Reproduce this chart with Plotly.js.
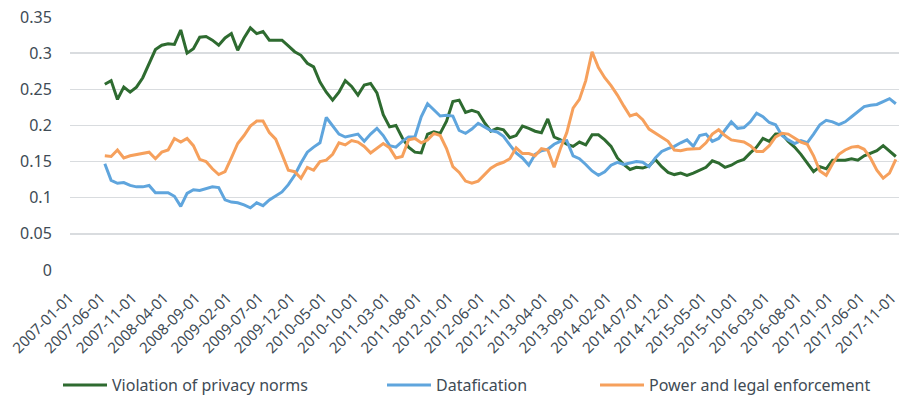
<!DOCTYPE html>
<html>
<head>
<meta charset="utf-8">
<script src="https://cdn.plot.ly/plotly-3.0.1.min.js"></script>
<style>html,body{margin:0;padding:0;background:#fff;}#chart{width:901px;height:404px;}</style>
</head>
<body>
<div id="chart"></div>
<script>
// Monthly categories 2007-01-01 .. 2017-11-01
var months = [];
for (var y = 2007; y <= 2017; y++) {
  for (var m = 1; m <= 12; m++) {
    if (y === 2017 && m > 11) break;
    months.push(y + '-' + (m < 10 ? '0' + m : m) + '-01');
  }
}
// Data begins at 2007-06-01
var firstDataIndex = 5;

var violation = [0.257,0.262,0.236,0.253,0.246,0.253,0.266,0.286,0.305,0.311,
  0.313,0.312,0.332,0.300,0.306,0.322,0.323,0.318,0.311,0.321,
  0.327,0.304,0.321,0.335,0.327,0.330,0.318,0.318,0.318,0.310,
  0.302,
  0.297,0.286,0.281,0.260,0.246,0.235,0.246,0.262,0.254,0.242,
  0.256,0.258,0.245,0.215,0.198,0.200,0.183,0.170,0.163,0.162,
  0.188,0.191,0.189,0.206,0.233,0.235,0.218,0.221,0.218,0.204,
  0.192,0.196,0.194,0.183,
  0.186,0.199,0.196,0.192,0.190,0.209,0.184,0.180,0.174,0.171,
  0.177,0.173,0.187,0.187,0.180,0.171,0.155,0.146,0.139,0.142,
  0.141,0.144,0.153,0.143,0.135,0.132,0.134,0.131,0.134,0.138,
  0.142,
  0.151,0.148,0.142,0.145,0.150,0.153,0.162,0.170,0.182,0.178,
  0.188,0.188,0.178,0.170,0.160,0.148,0.136,0.143,0.140,0.152,
  0.152,0.152,0.154,0.152,0.158,0.161,0.165,0.172,0.165,0.157];

var datafication = [0.147,0.124,0.120,0.121,0.117,0.115,0.115,0.117,0.107,0.107,
  0.107,0.102,0.088,0.106,0.111,0.110,0.113,0.115,0.114,0.097,
  0.094,0.093,0.090,0.086,0.093,0.089,0.097,0.103,0.108,0.118,
  0.131,0.148,0.163,
  0.170,0.176,0.211,0.200,0.188,0.184,0.186,0.188,0.178,0.188,
  0.196,0.186,0.172,0.170,0.178,0.184,0.184,0.212,0.230,0.222,
  0.213,0.214,0.213,0.193,0.189,0.195,0.203,0.198,0.193,0.191,
  0.185,0.173,
  0.162,0.155,0.145,0.160,0.165,0.167,0.174,0.178,0.179,0.158,
  0.154,0.146,0.137,0.131,0.136,0.145,0.149,0.146,0.148,0.150,
  0.149,0.143,0.155,0.164,0.168,0.171,0.176,0.180,0.171,0.186,
  0.188,
  0.178,0.182,0.193,0.205,0.196,0.197,0.205,0.217,0.212,0.204,
  0.201,0.186,0.180,0.175,0.179,0.176,0.188,0.201,0.207,0.205,
  0.201,0.205,0.212,0.219,0.226,0.228,0.229,0.233,0.237,0.230];

var power = [0.158,0.157,0.166,0.155,0.158,0.160,0.162,0.163,0.154,0.163,
  0.166,0.182,0.177,0.182,0.172,0.153,0.150,0.140,0.132,0.136,
  0.155,0.175,0.186,0.199,0.206,0.206,0.190,0.181,0.160,0.138,
  0.136,0.127,0.142,
  0.138,0.150,0.152,0.160,0.176,0.173,0.179,0.177,0.171,0.162,
  0.168,0.175,0.169,0.155,0.157,0.180,0.182,0.176,0.180,0.189,
  0.186,0.168,0.143,0.135,0.123,0.120,0.123,0.132,0.141,0.146,
  0.149,0.154,
  0.169,0.161,0.161,0.158,0.168,0.166,0.142,0.168,0.190,0.224,
  0.236,0.262,0.302,0.280,0.266,0.255,0.242,0.227,0.213,0.216,
  0.208,0.195,0.189,0.184,0.178,0.166,0.165,0.167,0.167,0.168,
  0.176,
  0.188,0.194,0.186,0.180,0.178,0.177,0.172,0.164,0.164,0.172,
  0.184,0.189,0.188,0.182,0.177,0.174,0.158,0.137,0.131,0.147,
  0.160,0.166,0.170,0.171,0.167,0.155,0.138,0.127,0.134,0.153];

var seriesNames = ['Violation of privacy norms', 'Datafication', 'Power and legal enforcement'];
var yTickVals = [0, 0.05, 0.1, 0.15, 0.2, 0.25, 0.3, 0.35];
var yTickText = ['0', '0.05', '0.1', '0.15', '0.2', '0.25', '0.3', '0.35'];

var tickCats = months.filter(function (d, i) { return i % 5 === 0; });
var dataX = months.slice(firstDataIndex);

var FONT = 'Noto Sans, Open Sans, sans-serif';
var TXT = '#404b55';

var traces = [
  {x: dataX, y: violation, name: seriesNames[0], type: 'scatter', mode: 'lines',
   line: {color: '#2e6b30', width: 3}, legend: 'legend'},
  {x: dataX, y: datafication, name: seriesNames[1], type: 'scatter', mode: 'lines',
   line: {color: '#5fa5dd', width: 3}, legend: 'legend2'},
  {x: dataX, y: power, name: seriesNames[2], type: 'scatter', mode: 'lines',
   line: {color: '#f6a05c', width: 3}, legend: 'legend3'}
];

function leg(xpx) {
  return {x: xpx / 901, xref: 'container', xanchor: 'left',
    y: 1 - 385 / 404, yref: 'container', yanchor: 'middle',
    orientation: 'h', font: {family: FONT, size: 16, color: TXT}, bgcolor: 'rgba(0,0,0,0)',
    itemwidth: 44};
}

var layout = {
  width: 901, height: 404,
  margin: {l: 70, r: 2, t: 17, b: 134, autoexpand: false},
  paper_bgcolor: '#ffffff', plot_bgcolor: '#ffffff',
  font: {family: FONT, color: TXT},
  showlegend: true,
  legend: leg(58), legend2: leg(382), legend3: leg(595),
  xaxis: {
    type: 'category', categoryorder: 'array', categoryarray: months,
    range: [-0.5, months.length - 0.5],
    tickmode: 'array', tickvals: tickCats, ticktext: tickCats,
    tickangle: -45, showgrid: false, zeroline: false, showline: false,
    ticks: 'outside', ticklen: 12, tickcolor: 'rgba(0,0,0,0)',
    ticklabelshift: -4,
    tickfont: {family: FONT, size: 15, color: TXT}, automargin: false
  },
  yaxis: {
    range: [0, 0.35], tickmode: 'array', tickvals: yTickVals, ticktext: yTickText,
    showgrid: true, gridcolor: '#d9dcdf', gridwidth: 1.5, zeroline: false, showline: false,
    ticks: 'outside', ticklen: 14, tickcolor: 'rgba(0,0,0,0)',
    tickfont: {family: FONT, size: 16, color: TXT}, automargin: false
  }
};

Plotly.newPlot('chart', traces, layout, {displayModeBar: false, staticPlot: true});
</script>
</body>
</html>
